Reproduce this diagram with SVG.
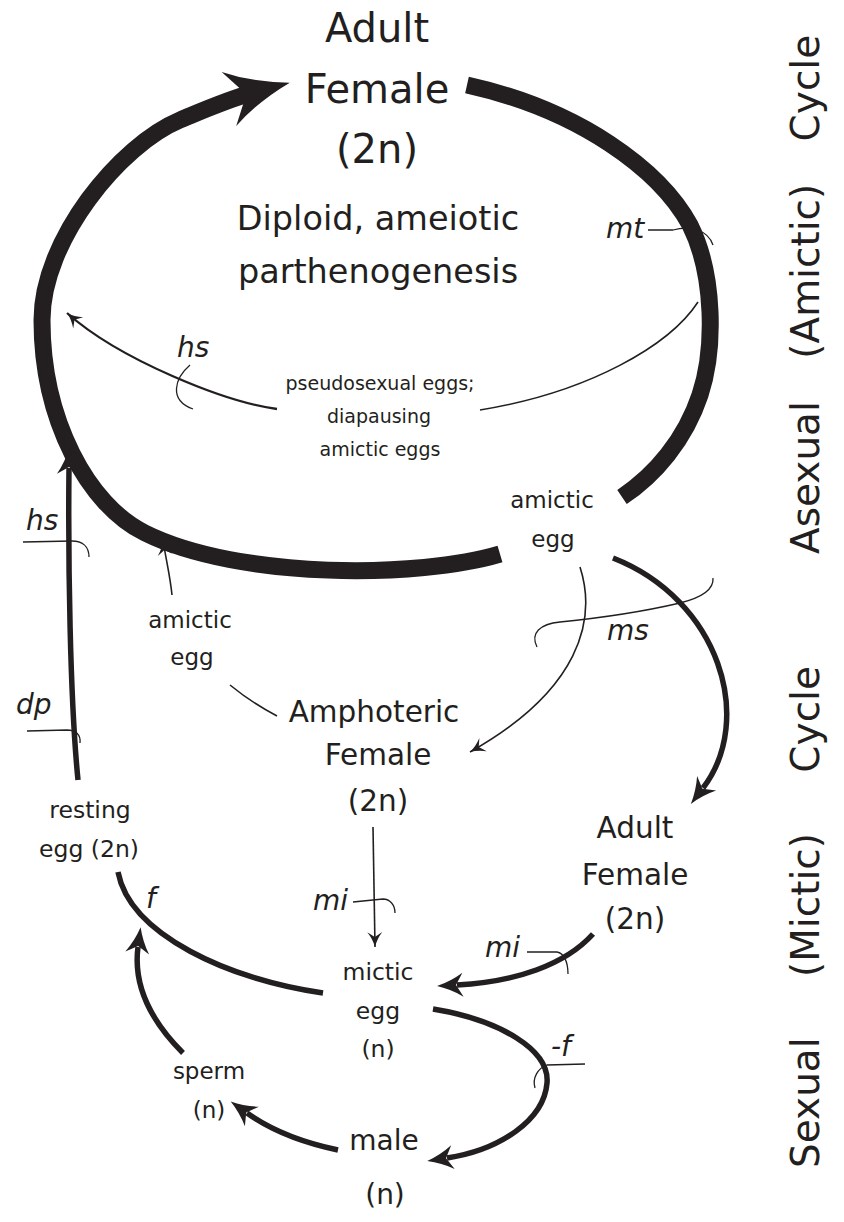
<svg xmlns="http://www.w3.org/2000/svg" width="844" height="1222" viewBox="0 0 844 1222">
<style>
text{font-family:"DejaVu Sans","Liberation Sans",sans-serif;fill:#231f20}
.c{text-anchor:middle}
.lab{font-style:italic;font-size:28px}
.ln{fill:none;stroke:#231f20;stroke-linecap:butt}
.big{stroke-width:17}
.mid{stroke-width:5.5}
.thin{stroke-width:1.6}
.hair{stroke-width:1.3}
.vt{font-size:39px}
</style>
<defs>
<marker id="hBig" markerUnits="userSpaceOnUse" orient="auto" markerWidth="1" markerHeight="1" refX="0" refY="0" style="overflow:visible"><path d="M36,0 Q0,-10 -27,-28 L-9,0 L-27,28 Q0,10 36,0Z" fill="#231f20"/></marker>
<marker id="hMid" markerUnits="userSpaceOnUse" orient="auto" markerWidth="1" markerHeight="1" refX="0" refY="0" style="overflow:visible"><path d="M20,0 Q6,-4 -6,-12 L1,0 L-6,12 Q6,4 20,0Z" fill="#231f20"/></marker>
<marker id="hThin" markerUnits="userSpaceOnUse" orient="auto" markerWidth="1" markerHeight="1" refX="0" refY="0" style="overflow:visible"><path d="M0,0 Q-8,-2 -15,-7.5 L-10,0 L-15,7.5 Q-8,2 0,0Z" fill="#231f20"/></marker>
</defs>
<rect width="844" height="1222" fill="#ffffff"/>

<g id="connectors">
  <!-- big asexual cycle -->
  <path class="ln big" d="M500,554 C420,578 240,580 145,533 C88,505 42,420 42,320 C42,240 120,145 180,120 C210,107.5 229,99 255,92" marker-end="url(#hBig)"/>
  <path class="ln big" d="M467,85 C580,110 660,170 690,225 C715,275 715,350 700,395 C685,440 655,475 622,497"/>
  <!-- pseudosexual eggs line -->
  <path class="ln thin" d="M698,302 C670,345 590,392 480,410"/>
  <path class="ln" stroke-width="2.3" d="M277,409 C225,402 120,360 67,313" marker-end="url(#hThin)"/>
  <!-- amictic egg (right) to adult female right -->
  <path class="ln mid" d="M613,558 C720,600 755,720 703,788" marker-end="url(#hMid)"/>
  <!-- amictic egg (right) to amphoteric female -->
  <path class="ln thin" d="M580,567 C597,620 580,690 470,752" marker-end="url(#hThin)"/>
  <!-- amictic egg (left) up -->
  <path class="ln thin" d="M172,595 C170,575 166,560 163,540" marker-end="url(#hThin)"/>
  <path class="ln thin" d="M230,685 Q252,703 277,716"/>
  <!-- amphoteric to mictic egg -->
  <path class="ln thin" d="M373,827 L375,947" marker-end="url(#hThin)"/>
  <!-- adult female right to mictic egg -->
  <path class="ln mid" d="M593,934 C565,965 515,982 457,985" marker-end="url(#hMid)"/>
  <!-- mictic egg to male -->
  <path class="ln mid" d="M433,1009 C500,1020 550,1050 547,1083 C544,1120 500,1150 447,1158" marker-end="url(#hMid)"/>
  <!-- male to sperm -->
  <path class="ln mid" d="M338,1150 C300,1142 268,1128 247,1113" marker-end="url(#hMid)"/>
  <!-- sperm to fertilization -->
  <path class="ln mid" d="M183,1053 C150,1020 133,985 138,947" marker-end="url(#hMid)"/>
  <!-- mictic egg to resting egg (fertilization curve) -->
  <path class="ln mid" d="M323,993 C230,980 130,935 118,872"/>
  <!-- resting egg up to asexual cycle -->
  <path class="ln mid" d="M78,780 C70,700 68,560 69,468" marker-end="url(#hMid)"/>

  <!-- label leaders -->
  <path class="ln hair" d="M648,230 L673,230 C690,225 708,230 713,245"/>
  <path class="ln hair" d="M190,365 C175,378 168,400 193,409"/>
  <path class="ln hair" d="M23,542 L72,541 C82,541 89,546 89,557"/>
  <path class="ln hair" d="M27,731 L67,730 C76,730 81,735 80,743"/>
  <path class="ln hair" d="M537,647 C530,633 540,624 560,622 C600,618 650,610 680,603 C700,598 714,590 713,578"/>
  <path class="ln hair" d="M353,902 L383,899 C390,899 395,905 395,913"/>
  <path class="ln hair" d="M527,952 L557,952 C564,953 568,962 568,974"/>
  <path class="ln hair" d="M585,1064 L547,1065 C538,1068 532,1078 535,1088"/>
</g>

<g id="n-adult-female-top">
  <text class="c" x="377" y="42" font-size="40">Adult</text>
  <text class="c" x="377" y="103" font-size="40">Female</text>
  <text class="c" x="377" y="163" font-size="40">(2n)</text>
</g>
<g id="n-parthenogenesis">
  <text class="c" x="378" y="230" font-size="33.5">Diploid, ameiotic</text>
  <text class="c" x="378" y="283" font-size="33.5">parthenogenesis</text>
</g>
<g id="n-pseudosexual">
  <text class="c" x="380" y="390" font-size="19">pseudosexual eggs;</text>
  <text class="c" x="379" y="423" font-size="19">diapausing</text>
  <text class="c" x="380" y="456" font-size="19">amictic eggs</text>
</g>
<g id="n-amictic-egg-right">
  <text class="c" x="552" y="508" font-size="23">amictic</text>
  <text class="c" x="553" y="547" font-size="23">egg</text>
</g>
<g id="n-amictic-egg-left">
  <text class="c" x="190" y="628" font-size="23">amictic</text>
  <text class="c" x="192" y="665" font-size="23">egg</text>
</g>
<g id="n-amphoteric-female">
  <text class="c" x="374" y="722" font-size="29.5">Amphoteric</text>
  <text class="c" x="378" y="765" font-size="29.5">Female</text>
  <text class="c" x="378" y="811" font-size="29.5">(2n)</text>
</g>
<g id="n-adult-female-right">
  <text class="c" x="635" y="838" font-size="29.5">Adult</text>
  <text class="c" x="635" y="885" font-size="29.5">Female</text>
  <text class="c" x="635" y="929" font-size="29.5">(2n)</text>
</g>
<g id="n-resting-egg">
  <text class="c" x="90" y="818" font-size="23.5">resting</text>
  <text class="c" x="89" y="857" font-size="23.5">egg (2n)</text>
</g>
<g id="n-mictic-egg">
  <text class="c" x="378" y="980" font-size="23.5">mictic</text>
  <text class="c" x="378" y="1019" font-size="23.5">egg</text>
  <text class="c" x="378" y="1057" font-size="23.5">(n)</text>
</g>
<g id="n-sperm">
  <text class="c" x="209" y="1079" font-size="23">sperm</text>
  <text class="c" x="209" y="1118" font-size="23">(n)</text>
</g>
<g id="n-male">
  <text class="c" x="384" y="1150" font-size="28">male</text>
  <text class="c" x="385" y="1204" font-size="28">(n)</text>
</g>

<g id="labels">
  <text class="lab" x="606" y="238">mt</text>
  <text class="lab" x="177" y="357">hs</text>
  <text class="lab" x="26" y="530">hs</text>
  <text class="lab" x="16" y="714">dp</text>
  <text class="lab" x="607" y="640">ms</text>
  <text class="lab" x="313" y="910">mi</text>
  <text class="lab" x="485" y="957">mi</text>
  <text class="lab" x="146" y="908">f</text>
  <text class="lab" x="551" y="1056">-f</text>
</g>

<g id="cycle-titles">
  <text class="vt" transform="translate(819,554) rotate(-90)" word-spacing="30">Asexual (Amictic) Cycle</text>
  <text class="vt" transform="translate(819,1168) rotate(-90)" word-spacing="48">Sexual (Mictic) Cycle</text>
</g>
</svg>
